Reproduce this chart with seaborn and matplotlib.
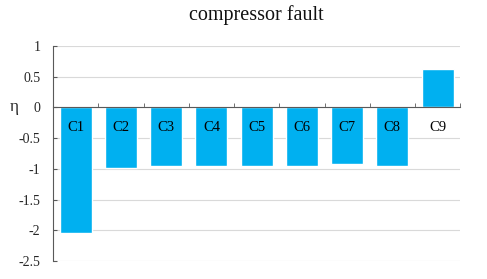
import numpy as np
import seaborn as sns
import matplotlib.pyplot as plt
from matplotlib.ticker import FixedLocator, FuncFormatter

categories = ['C1', 'C2', 'C3', 'C4', 'C5', 'C6', 'C7', 'C8', 'C9']
eta = [-2.05, -0.98, -0.95, -0.95, -0.95, -0.95, -0.92, -0.95, 0.62]
y_ticks = [1, 0.5, 0, -0.5, -1, -1.5, -2, -2.5]

sns.set_style('white')
plt.rcParams['font.family'] = ['Liberation Serif', 'DejaVu Serif']

fig = plt.figure(figsize=(4.87, 2.79), dpi=100)
ax = fig.add_axes([0.109, 0.0645, 0.836, 0.7705])

sns.barplot(x=categories, y=eta, color='#00B0F0', saturation=1, width=0.71, ax=ax)

ax.set_xlim(-0.5, len(categories) - 0.5)
ax.set_ylim(-2.5, 1)
ax.set_yticks(y_ticks)
ax.yaxis.set_major_formatter(FuncFormatter(lambda v, p: f'{v:g}'))
ax.yaxis.grid(True, color='#d9d9d9', linewidth=0.8)
ax.set_axisbelow(True)

# category axis sits on the zero line, ticks between bars pointing up
ax.spines['bottom'].set_position(('data', 0))
ax.spines['bottom'].set_color('#595959')
ax.spines['left'].set_color('#595959')
ax.spines['top'].set_visible(False)
ax.spines['right'].set_visible(False)
ax.set_xticks([])
ax.xaxis.set_minor_locator(FixedLocator(np.arange(-0.5, len(categories), 1)))
ax.tick_params(axis='x', which='minor', direction='in', length=3, color='#595959', bottom=True)
ax.tick_params(axis='y', which='major', direction='in', length=3, color='#595959', left=True,
               labelsize=10, pad=9, labelcolor='#262626')

for i, c in enumerate(categories):
    ax.annotate(c, (i, 0), textcoords='offset points', xytext=(0, -10),
                ha='center', va='top', fontsize=10.5, color='black')

ax.set_ylabel('η', rotation=0, fontsize=12.5, va='center', ha='center')
ax.yaxis.set_label_coords(-0.095, 2.5 / 3.5)
ax.set_title('compressor fault', fontsize=14.5, pad=19, color='#111111')

plt.savefig('out.png', dpi=100)
